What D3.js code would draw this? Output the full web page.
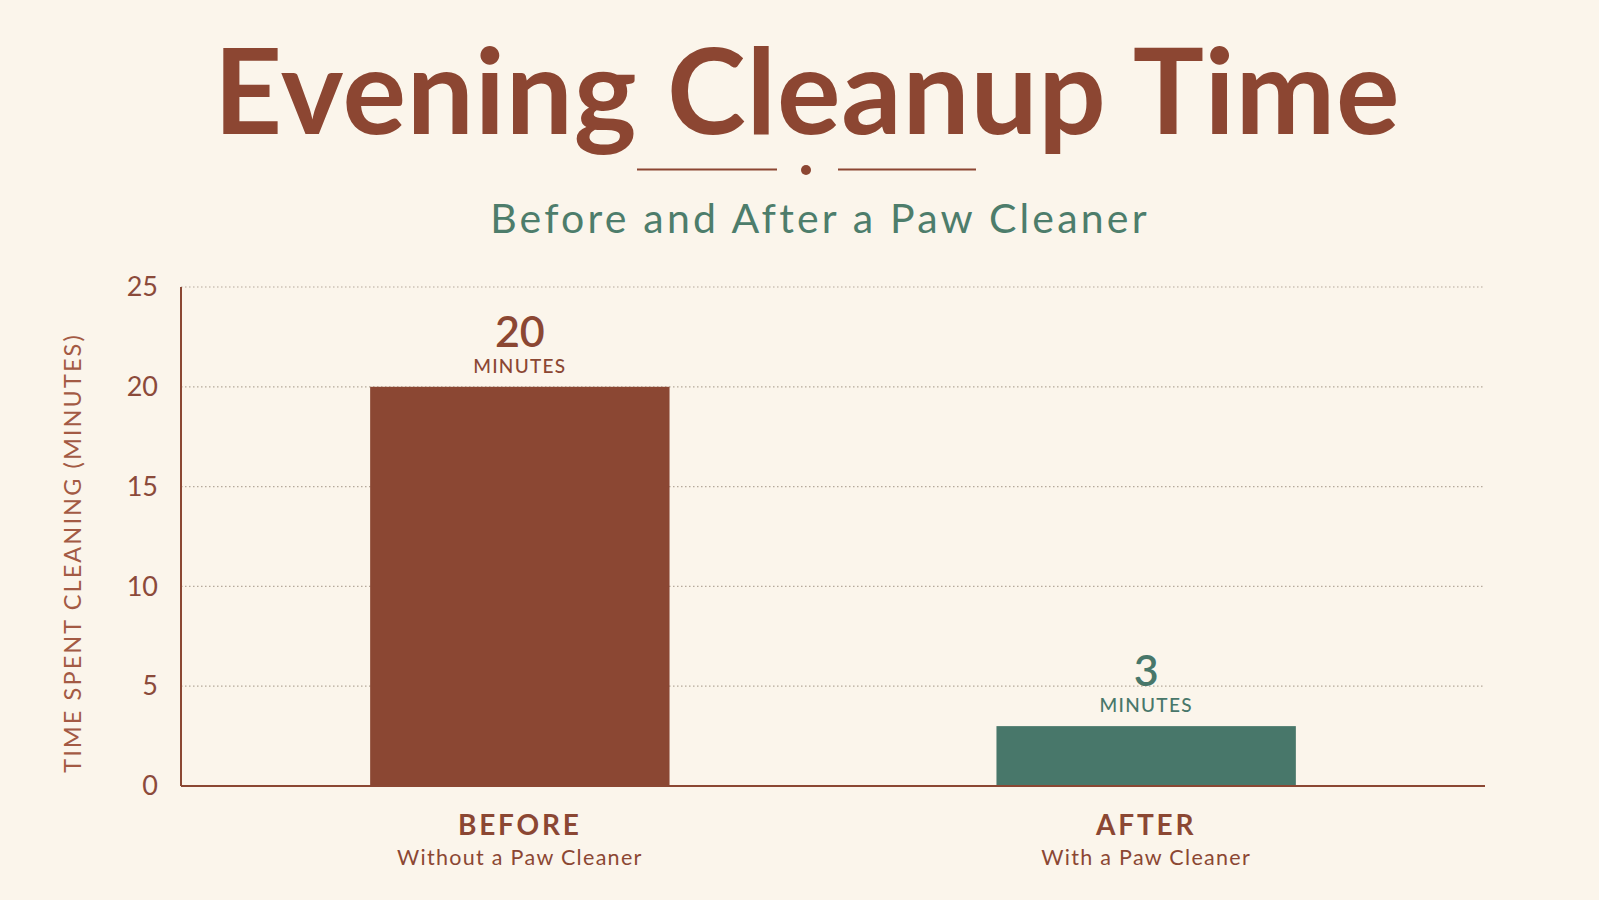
<!DOCTYPE html>
<html>
<head>
<meta charset="utf-8">
<script src="https://cdn.jsdelivr.net/npm/d3@7"></script>
<style>
  html, body { margin: 0; padding: 0; background: #fbf5eb; }
  svg { display: block; }
</style>
</head>
<body>
<div id="chart"></div>
<script>
// Chart data
var categories = ["BEFORE", "AFTER"];
var subLabels = ["Without a Paw Cleaner", "With a Paw Cleaner"];
var minutes = [20, 3];
var yTicks = [0, 5, 10, 15, 20, 25];

var width = 1599, height = 900;
var margin = {top: 287, right: 114, bottom: 114, left: 181};

var rust = "#8b4733";
var green = "#48776a";
var fontFamily = "Lato, 'Open Sans', sans-serif";

var svg = d3.select("#chart").append("svg")
    .attr("width", width)
    .attr("height", height);

svg.append("rect")
    .attr("width", width)
    .attr("height", height)
    .attr("fill", "#fbf5eb");

// Title block
svg.append("text")
    .attr("x", 807)
    .attr("y", 134)
    .attr("text-anchor", "middle")
    .attr("font-family", fontFamily)
    .attr("font-weight", 700)
    .attr("font-size", "119px")
    .attr("letter-spacing", "0.8px")
    .attr("fill", "#8c4632")
    .text("Evening Cleanup Time");

// little divider under the title
svg.append("line")
    .attr("x1", 637).attr("x2", 777)
    .attr("y1", 169.5).attr("y2", 169.5)
    .attr("stroke", "#8c4632").attr("stroke-width", 2);
svg.append("line")
    .attr("x1", 838).attr("x2", 976)
    .attr("y1", 169.5).attr("y2", 169.5)
    .attr("stroke", "#8c4632").attr("stroke-width", 2);
svg.append("circle")
    .attr("cx", 806).attr("cy", 170).attr("r", 5)
    .attr("fill", "#8c4632");

svg.append("text")
    .attr("x", 820)
    .attr("y", 233)
    .attr("text-anchor", "middle")
    .attr("font-family", fontFamily)
    .attr("font-size", "41px")
    .attr("letter-spacing", "3.2px")
    .attr("fill", "#4d7d6b")
    .text("Before and After a Paw Cleaner");

var innerW = width - margin.left - margin.right;
var innerH = height - margin.top - margin.bottom;

var g = svg.append("g")
    .attr("transform", "translate(" + margin.left + "," + margin.top + ")");

var x = d3.scaleBand()
    .domain(categories)
    .range([0, innerW])
    .paddingInner(0.522)
    .paddingOuter(0.302);

var y = d3.scaleLinear()
    .domain([0, 25])
    .range([innerH, 0]);

// dotted grid lines
g.append("g")
    .selectAll("line")
    .data(yTicks.filter(function(d) { return d > 0; }))
    .enter()
    .append("line")
        .attr("x1", 0)
        .attr("x2", innerW)
        .attr("y1", function(d) { return y(d); })
        .attr("y2", function(d) { return y(d); })
        .attr("stroke", "#b5a99b")
        .attr("stroke-width", 1.2)
        .attr("stroke-dasharray", "1.5,2.5");

// y axis tick labels
var yAxis = d3.axisLeft(y)
    .tickValues(yTicks)
    .tickSize(0)
    .tickPadding(23);

var yAxisG = g.append("g").call(yAxis);
yAxisG.select(".domain").remove();
yAxisG.selectAll("text")
    .attr("font-family", fontFamily)
    .attr("font-size", "27px")
    .attr("fill", "#8b4a3a");

// bars
g.selectAll(".bar")
    .data(minutes)
    .enter()
    .append("rect")
        .attr("class", "bar")
        .attr("x", function(d, i) { return x(categories[i]); })
        .attr("y", function(d) { return y(d); })
        .attr("width", x.bandwidth())
        .attr("height", function(d) { return innerH - y(d); })
        .attr("fill", function(d, i) { return i === 0 ? rust : green; });

// axis lines drawn over bars
g.append("line")
    .attr("x1", 0).attr("x2", 0)
    .attr("y1", 0).attr("y2", innerH)
    .attr("stroke", rust).attr("stroke-width", 2);
g.append("line")
    .attr("x1", 0).attr("x2", innerW)
    .attr("y1", innerH).attr("y2", innerH)
    .attr("stroke", rust).attr("stroke-width", 2);

// value labels above bars
minutes.forEach(function(d, i) {
    var cx = x(categories[i]) + x.bandwidth() / 2;
    var col = i === 0 ? rust : green;
    g.append("text")
        .attr("x", cx)
        .attr("y", y(d) - 40)
        .attr("text-anchor", "middle")
        .attr("font-family", fontFamily)
        .attr("font-weight", 600)
        .attr("font-size", "43px")
        .attr("fill", col)
        .text(d);
    g.append("text")
        .attr("x", cx)
        .attr("y", y(d) - 14)
        .attr("text-anchor", "middle")
        .attr("font-family", fontFamily)
        .attr("font-weight", 500)
        .attr("font-size", "19px")
        .attr("letter-spacing", "1.3px")
        .attr("fill", col)
        .text("MINUTES");
});

// category labels
categories.forEach(function(c, i) {
    var cx = x(c) + x.bandwidth() / 2;
    g.append("text")
        .attr("x", cx)
        .attr("y", innerH + 49)
        .attr("text-anchor", "middle")
        .attr("font-family", fontFamily)
        .attr("font-weight", 700)
        .attr("font-size", "28px")
        .attr("letter-spacing", "2.8px")
        .attr("fill", rust)
        .text(c);
    g.append("text")
        .attr("x", cx)
        .attr("y", innerH + 79)
        .attr("text-anchor", "middle")
        .attr("font-family", fontFamily)
        .attr("font-size", "21.5px")
        .attr("letter-spacing", "1.3px")
        .attr("fill", rust)
        .text(subLabels[i]);
});

// y axis title
svg.append("text")
    .attr("transform", "translate(81,553) rotate(-90)")
    .attr("text-anchor", "middle")
    .attr("font-family", fontFamily)
    .attr("font-size", "23.5px")
    .attr("letter-spacing", "2.1px")
    .attr("fill", "#a35a44")
    .text("TIME SPENT CLEANING (MINUTES)");
</script>
</body>
</html>
